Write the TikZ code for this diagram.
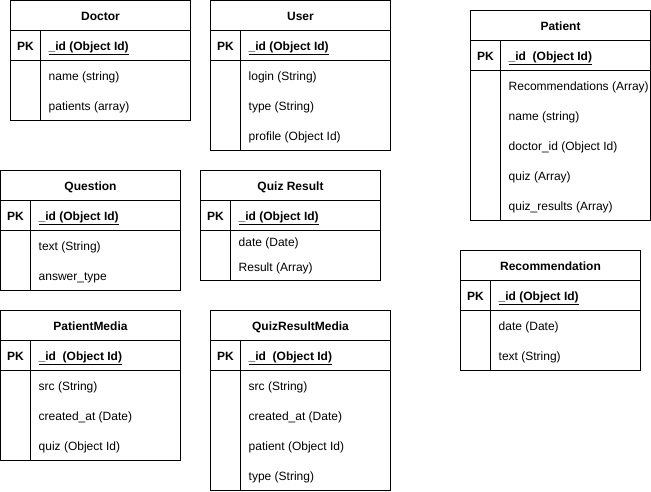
\documentclass[tikz,border=0pt]{standalone}
\usepackage{fontspec}
\setmainfont{Liberation Sans}
\usepackage{tikz}
\usetikzlibrary{positioning}

\begin{document}
\begin{tikzpicture}[
    x=1pt, y=-1pt,
    tbl/.style={draw=black, line width=1pt},
    title/.style={font=\fontsize{12}{14}\selectfont\bfseries, inner sep=0pt, yshift=-1.5pt, text height=8.6pt, text depth=2.5pt},
    pk/.style={font=\fontsize{12}{14}\selectfont\bfseries, inner sep=0pt, yshift=-1.5pt, text height=8.6pt, text depth=2.5pt},
    key/.style={anchor=west, font=\fontsize{12}{14}\selectfont\bfseries, inner sep=0pt, yshift=-1.5pt, text height=8.6pt, text depth=2.5pt},
    field/.style={anchor=west, font=\fontsize{12}{14}\selectfont, inner sep=0pt, yshift=-1.5pt, text height=8.6pt, text depth=2.5pt}
  ]
  \useasboundingbox (0,0) rectangle (651,491);
  \begin{scope}[shift={(0.5,0.5)}]

  % Doctor
  \draw[tbl] (10,0) rectangle (190,120);
  \draw[tbl] (10,30) -- (190,30) (10,60) -- (190,60) (40,30) -- (40,120);
  \node[title] (doctor) at (100,15) {Doctor};
  \node[pk] (doctorpk) at (25,45) {PK};
  \node[key] (doctorid) at (48,45) {\underline{\_id (Object Id)}};
  \node[field] (doctorname) at (48,75) {name (string)};
  \node[field] (doctorpatients) at (48,105) {patients (array)};

  % User
  \draw[tbl] (210,0) rectangle (390,150);
  \draw[tbl] (210,30) -- (390,30) (210,60) -- (390,60) (240,30) -- (240,150);
  \node[title] (user) at (300,15) {User};
  \node[pk] (userpk) at (225,45) {PK};
  \node[key] (userid) at (248,45) {\underline{\_id (Object Id)}};
  \node[field] (userlogin) at (248,75) {login (String)};
  \node[field] (usertype) at (248,105) {type (String)};
  \node[field] (userprofile) at (248,135) {profile (Object Id)};

  % Patient
  \draw[tbl] (470,10) rectangle (650,220);
  \draw[tbl] (470,40) -- (650,40) (470,70) -- (650,70) (500,40) -- (500,220);
  \node[title] (patient) at (560,25) {Patient};
  \node[pk] (patientpk) at (485,55) {PK};
  \node[key] (patientid) at (508,55) {\underline{\_id\ \ (Object Id)}};
  \node[field] (patientrecs) at (508,85) {Recommendations (Array)};
  \node[field] (patientname) at (508,115) {name (string)};
  \node[field] (patientdoctor) at (508,145) {doctor\_id (Object Id)};
  \node[field] (patientquiz) at (508,175) {quiz (Array)};
  \node[field] (patientresults) at (508,205) {quiz\_results (Array)};

  % Question
  \draw[tbl] (0,170) rectangle (180,290);
  \draw[tbl] (0,200) -- (180,200) (0,230) -- (180,230) (30,200) -- (30,290);
  \node[title] (question) at (90,185) {Question};
  \node[pk] (questionpk) at (15,215) {PK};
  \node[key] (questionid) at (38,215) {\underline{\_id (Object Id)}};
  \node[field] (questiontext) at (38,245) {text (String)};
  \node[field] (questiontype) at (38,275) {answer\_type};

  % Quiz Result
  \draw[tbl] (200,170) rectangle (380,280);
  \draw[tbl] (200,200) -- (380,200) (200,230) -- (380,230) (230,200) -- (230,280);
  \node[title] (quizresult) at (290,185) {Quiz Result};
  \node[pk] (quizresultpk) at (215,215) {PK};
  \node[key] (quizresultid) at (238,215) {\underline{\_id (Object Id)}};
  \node[field] (quizresultdate) at (238,241) {date (Date)};
  \node[field] (quizresultres) at (238,266) {Result (Array)};

  % Recommendation
  \draw[tbl] (460,250) rectangle (640,370);
  \draw[tbl] (460,280) -- (640,280) (460,310) -- (640,310) (490,280) -- (490,370);
  \node[title] (recommendation) at (550,265) {Recommendation};
  \node[pk] (recommendationpk) at (475,295) {PK};
  \node[key] (recommendationid) at (498,295) {\underline{\_id (Object Id)}};
  \node[field] (recommendationdate) at (498,325) {date (Date)};
  \node[field] (recommendationtext) at (498,355) {text (String)};

  % PatientMedia
  \draw[tbl] (0,310) rectangle (180,460);
  \draw[tbl] (0,340) -- (180,340) (0,370) -- (180,370) (30,340) -- (30,460);
  \node[title] (patientmedia) at (90,325) {PatientMedia};
  \node[pk] (patientmediapk) at (15,355) {PK};
  \node[key] (patientmediaid) at (38,355) {\underline{\_id\ \ (Object Id)}};
  \node[field] (patientmediasrc) at (38,385) {src (String)};
  \node[field] (patientmediacreated) at (38,415) {created\_at (Date)};
  \node[field] (patientmediaquiz) at (38,445) {quiz (Object Id)};

  % QuizResultMedia
  \draw[tbl] (210,310) rectangle (390,490);
  \draw[tbl] (210,340) -- (390,340) (210,370) -- (390,370) (240,340) -- (240,490);
  \node[title] (quizresultmedia) at (300,325) {QuizResultMedia};
  \node[pk] (quizresultmediapk) at (225,355) {PK};
  \node[key] (quizresultmediaid) at (248,355) {\underline{\_id\ \ (Object Id)}};
  \node[field] (quizresultmediasrc) at (248,385) {src (String)};
  \node[field] (quizresultmediacreated) at (248,415) {created\_at (Date)};
  \node[field] (quizresultmediapatient) at (248,445) {patient (Object Id)};
  \node[field] (quizresultmediatype) at (248,475) {type (String)};
  \end{scope}
\end{tikzpicture}
\end{document}
